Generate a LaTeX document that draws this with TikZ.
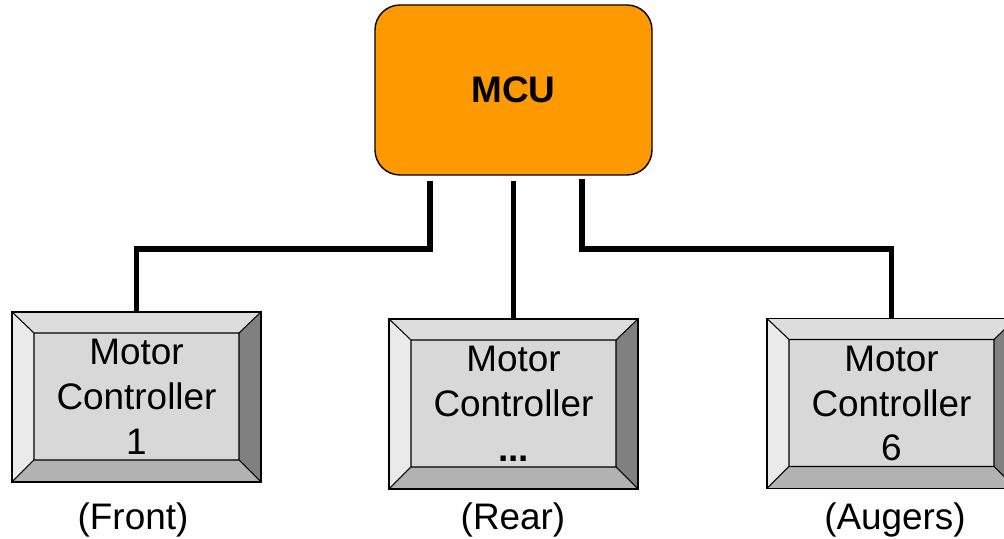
\documentclass[tikz,border=0pt]{standalone}
\usepackage{fontspec}
\setmainfont{Liberation Sans}
\usetikzlibrary{calc,positioning}

\definecolor{mcuorange}{RGB}{255,153,0}
\definecolor{bevtop}{RGB}{221,221,221}
\definecolor{bevleft}{RGB}{234,234,234}
\definecolor{bevright}{RGB}{128,128,128}
\definecolor{bevbottom}{RGB}{178,178,178}
\definecolor{bevface}{RGB}{216,216,216}

\tikzset{
  mcubox/.style={draw, thick, rounded corners=0.5cm, fill=mcuorange,
    minimum width=5.54cm, minimum height=3.4cm,
    font=\fontsize{21}{25}\selectfont\bfseries},
  ctrlbox/.style={draw, semithick, fill=bevface, align=center,
    minimum width=4.98cm, minimum height=3.4cm, inner sep=0pt,
    font=\fontsize{21}{25.6}\selectfont,
    path picture={
      \coordinate (pa) at (path picture bounding box.north west);
      \coordinate (pb) at (path picture bounding box.north east);
      \coordinate (pc) at (path picture bounding box.south east);
      \coordinate (pd) at (path picture bounding box.south west);
      \coordinate (qa) at ($(pa)+(0.44,-0.42)$);
      \coordinate (qb) at ($(pb)+(-0.44,-0.42)$);
      \coordinate (qc) at ($(pc)+(-0.44,0.44)$);
      \coordinate (qd) at ($(pd)+(0.44,0.44)$);
      \fill[bevtop] (pa) -- (pb) -- (qb) -- (qa) -- cycle;
      \fill[bevleft] (pa) -- (qa) -- (qd) -- (pd) -- cycle;
      \fill[bevright] (pb) -- (pc) -- (qc) -- (qb) -- cycle;
      \fill[bevbottom] (pd) -- (qd) -- (qc) -- (pc) -- cycle;
      \draw[semithick] (qa) rectangle (qc) (pa) -- (qa) (pb) -- (qb) (pc) -- (qc) (pd) -- (qd);
    }},
  wire/.style={line width=3.4pt},
  caption/.style={font=\fontsize{21}{25}\selectfont}
}

\begin{document}
\begin{tikzpicture}
\useasboundingbox (0,0) rectangle (20.08,10.78);
\node[mcubox] (mcu) at (10.27,8.98) {MCU};
\node[ctrlbox] (mc1) at (2.73,2.84) {Motor\\Controller\\1};
\node[ctrlbox] (mc2) at (10.27,2.70) {Motor\\Controller\\\textbf{...}};
\node[ctrlbox] (mc3) at (17.83,2.71) {Motor\\Controller\\6};
\node[caption] (front) at (2.66,0.38) {(Front)};
\node[caption] (rear) at (10.26,0.38) {(Rear)};
\node[caption] (augers) at (17.9,0.38) {(Augers)};
\coordinate (tapl) at ([xshift=-1.67cm,yshift=-0.1cm]mcu.south);
\coordinate (tapm) at ([yshift=-0.1cm]mcu.south);
\coordinate (tapr) at ([xshift=1.37cm,yshift=-0.06cm]mcu.south);
\draw[wire] (tapl) -- ++(0,-1.36) -| (mc1.north);
\draw[wire] (tapm) -- (mc2.north);
\draw[wire] (tapr) -- ++(0,-1.4) -| (mc3.north);
\end{tikzpicture}
\end{document}
